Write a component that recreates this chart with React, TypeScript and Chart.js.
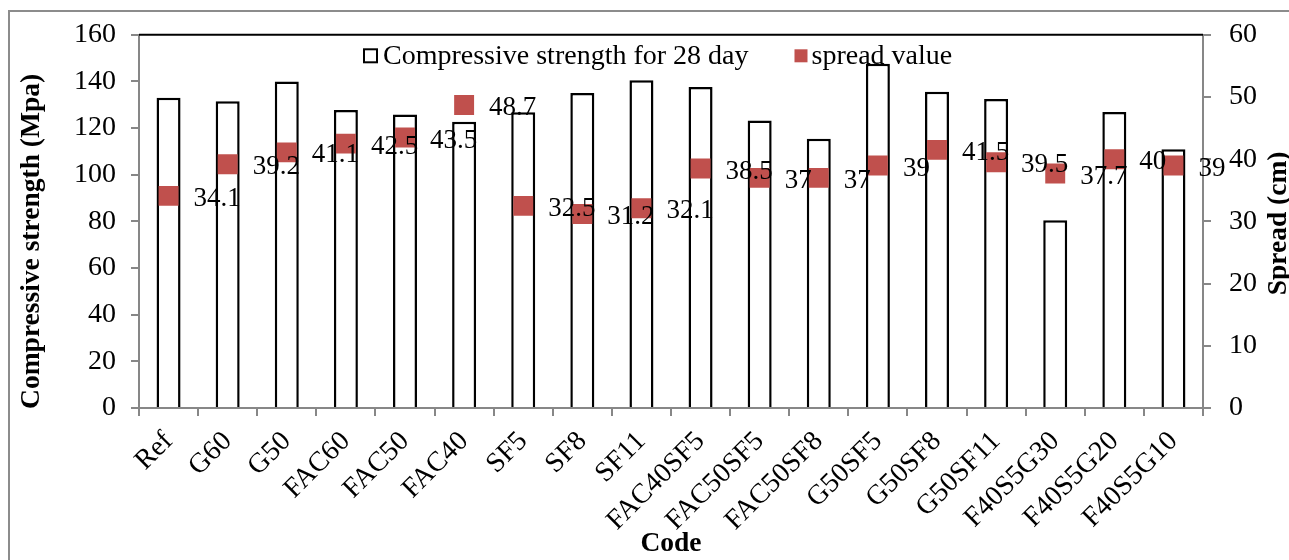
import React, { useEffect, useRef } from 'react';
import { Chart, registerables } from 'chart.js';

Chart.register(...registerables);

const categories = ['Ref', 'G60', 'G50', 'FAC60', 'FAC50', 'FAC40', 'SF5', 'SF8', 'SF11', 'FAC40SF5', 'FAC50SF5', 'FAC50SF8', 'G50SF5', 'G50SF8', 'G50SF11', 'F40S5G30', 'F40S5G20', 'F40S5G10'];
const strength28 = [133, 131.5, 140, 127.8, 125.8, 122.7, 126.8, 135, 140.5, 137.6, 123.3, 115.4, 147.6, 135.6, 132.5, 80.5, 126.9, 110.9];
const spreadValues = [34.1, 39.2, 41.1, 42.5, 43.5, 48.7, 32.5, 31.2, 32.1, 38.5, 37, 37, 39, 41.5, 39.5, 37.7, 40, 39];
const barLabel = 'Compressive strength for 28 day';
const spreadLabel = 'spread value';
const leftTitle = 'Compressive strength (Mpa)';
const rightTitle = 'Spread (cm)';
const bottomTitle = 'Code';

const FONT = "'Liberation Serif', 'Times New Roman', serif";
const GRAY = '#878787';
const RED = '#C0504D';

const framePlugin = {
  id: 'frame',
  afterDraw(chart: any) {
    const { ctx, chartArea } = chart;
    ctx.save();
    ctx.strokeStyle = '#8c8c8c';
    ctx.lineWidth = 2;
    ctx.beginPath();
    ctx.moveTo(9, 560);
    ctx.lineTo(9, 11);
    ctx.lineTo(1289, 11);
    ctx.stroke();
    ctx.strokeStyle = '#000';
    ctx.lineWidth = 2;
    ctx.beginPath();
    ctx.moveTo(chartArea.left, chartArea.top);
    ctx.lineTo(chartArea.right, chartArea.top);
    ctx.stroke();
    ctx.restore();
  },
};

const legendPlugin = {
  id: 'customLegend',
  afterDraw(chart: any) {
    const { ctx, chartArea } = chart;
    ctx.save();
    ctx.font = `28px ${FONT}`;
    ctx.textBaseline = 'middle';
    ctx.textAlign = 'left';
    ctx.fillStyle = '#000';
    const y = chartArea.top + 21;
    const box = 13;
    let x = chartArea.left + 225;
    chart.data.datasets.forEach((ds: any) => {
      if (ds.type === 'line') {
        ctx.fillStyle = RED;
        ctx.fillRect(x, y - box / 2, box, box);
        x += box + 4;
      } else {
        ctx.fillStyle = '#fff';
        ctx.fillRect(x, y - box / 2, box, box);
        ctx.strokeStyle = '#000';
        ctx.lineWidth = 2;
        ctx.strokeRect(x, y - box / 2, box, box);
        x += box + 6;
      }
      ctx.fillStyle = '#000';
      ctx.fillText(ds.label, x, y + 1);
      x += ctx.measureText(ds.label).width + 46;
    });
    ctx.restore();
  },
};

const dataLabelPlugin = {
  id: 'spreadLabels',
  afterDatasetsDraw(chart: any) {
    const { ctx } = chart;
    const idx = chart.data.datasets.findIndex((d: any) => d.type === 'line');
    const meta = chart.getDatasetMeta(idx);
    const data = chart.data.datasets[idx].data;
    ctx.save();
    ctx.font = `27px ${FONT}`;
    ctx.textAlign = 'left';
    ctx.textBaseline = 'middle';
    ctx.fillStyle = '#000';
    meta.data.forEach((pt: any, i: number) => {
      ctx.fillText(String(data[i]), pt.x + 25, pt.y + 3);
    });
    ctx.restore();
  },
};

const axisTitlePlugin = {
  id: 'axisTitles',
  afterDraw(chart: any) {
    const { ctx } = chart;
    const draw = (text: string, x: number, y: number) => {
      ctx.save();
      ctx.font = `bold 27.5px ${FONT}`;
      ctx.fillStyle = '#000';
      ctx.textAlign = 'center';
      ctx.textBaseline = 'middle';
      ctx.translate(x, y);
      ctx.rotate(-Math.PI / 2);
      ctx.fillText(text, 0, 0);
      ctx.restore();
    };
    const yl = chart.scales.y;
    const yr = chart.scales.y1;
    draw(yl.options.title.text, 32, (yl.top + yl.bottom) / 2 + 20);
    draw(yr.options.title.text, 1279, (yr.top + yr.bottom) / 2 + 2);
  },
};

export default function App() {
  const ref = useRef<HTMLCanvasElement>(null);
  useEffect(() => {
    if (!ref.current) return;
    const tickFont = { family: FONT, size: 28 };
    const titleFont = { family: FONT, size: 27.5, weight: 'bold' as const };
    const chart = new Chart(ref.current, {
      type: 'bar',
      data: {
        labels: categories,
        datasets: [
          {
            type: 'bar',
            label: barLabel,
            data: strength28,
            backgroundColor: '#fff',
            borderColor: '#000',
            borderWidth: 2.5,
            barPercentage: 0.406,
            categoryPercentage: 1,
            yAxisID: 'y',
            order: 1,
          } as any,
          {
            type: 'line',
            label: spreadLabel,
            data: spreadValues,
            showLine: false,
            pointStyle: 'rect',
            pointRadius: 14.1,
            pointBorderWidth: 0,
            pointBackgroundColor: RED,
            pointBorderColor: RED,
            backgroundColor: RED,
            borderColor: RED,
            yAxisID: 'y1',
            order: 0,
          } as any,
        ],
      },
      options: {
        responsive: false,
        animation: false,
        layout: { padding: { top: 29, left: 0, right: 0, bottom: 0 } },
        plugins: { legend: { display: false }, tooltip: { enabled: false } },
        scales: {
          x: {
            offset: true,
            grid: { offset: true, drawOnChartArea: false, tickLength: 8, color: GRAY, lineWidth: 2 },
            border: { color: GRAY, width: 2 },
            ticks: { color: '#000', font: tickFont, minRotation: 45, maxRotation: 45, autoSkip: false, padding: 9 },
            title: { display: true, text: bottomTitle, color: '#000', font: titleFont, padding: { top: 0, bottom: 0 } },
            afterFit: (s: any) => { s.height = 152; },
          },
          y: {
            position: 'left',
            min: 0,
            max: 160,
            grid: { drawOnChartArea: false, tickLength: 8, color: GRAY, lineWidth: 2 },
            border: { color: GRAY, width: 2 },
            ticks: { stepSize: 20, color: '#000', font: tickFont, padding: 15 },
            title: { display: false, text: leftTitle },
            afterFit: (s: any) => { s.width = 139; },
          },
          y1: {
            position: 'right',
            min: 0,
            max: 60,
            grid: { drawOnChartArea: false, tickLength: 8, color: GRAY, lineWidth: 2 },
            border: { color: GRAY, width: 2 },
            ticks: { stepSize: 10, color: '#000', font: tickFont, padding: 18 },
            title: { display: false, text: rightTitle },
            afterFit: (s: any) => { s.width = 86; },
          },
        },
      } as any,
      plugins: [framePlugin, legendPlugin, dataLabelPlugin, axisTitlePlugin],
    });
    return () => chart.destroy();
  }, []);
  return (
    <div style={{ position: 'fixed', left: 0, top: 0, width: 1289, height: 560, overflow: 'hidden', background: '#fff' }}>
      <canvas ref={ref} width={1289} height={560} style={{ display: 'block' }} />
    </div>
  );
}
